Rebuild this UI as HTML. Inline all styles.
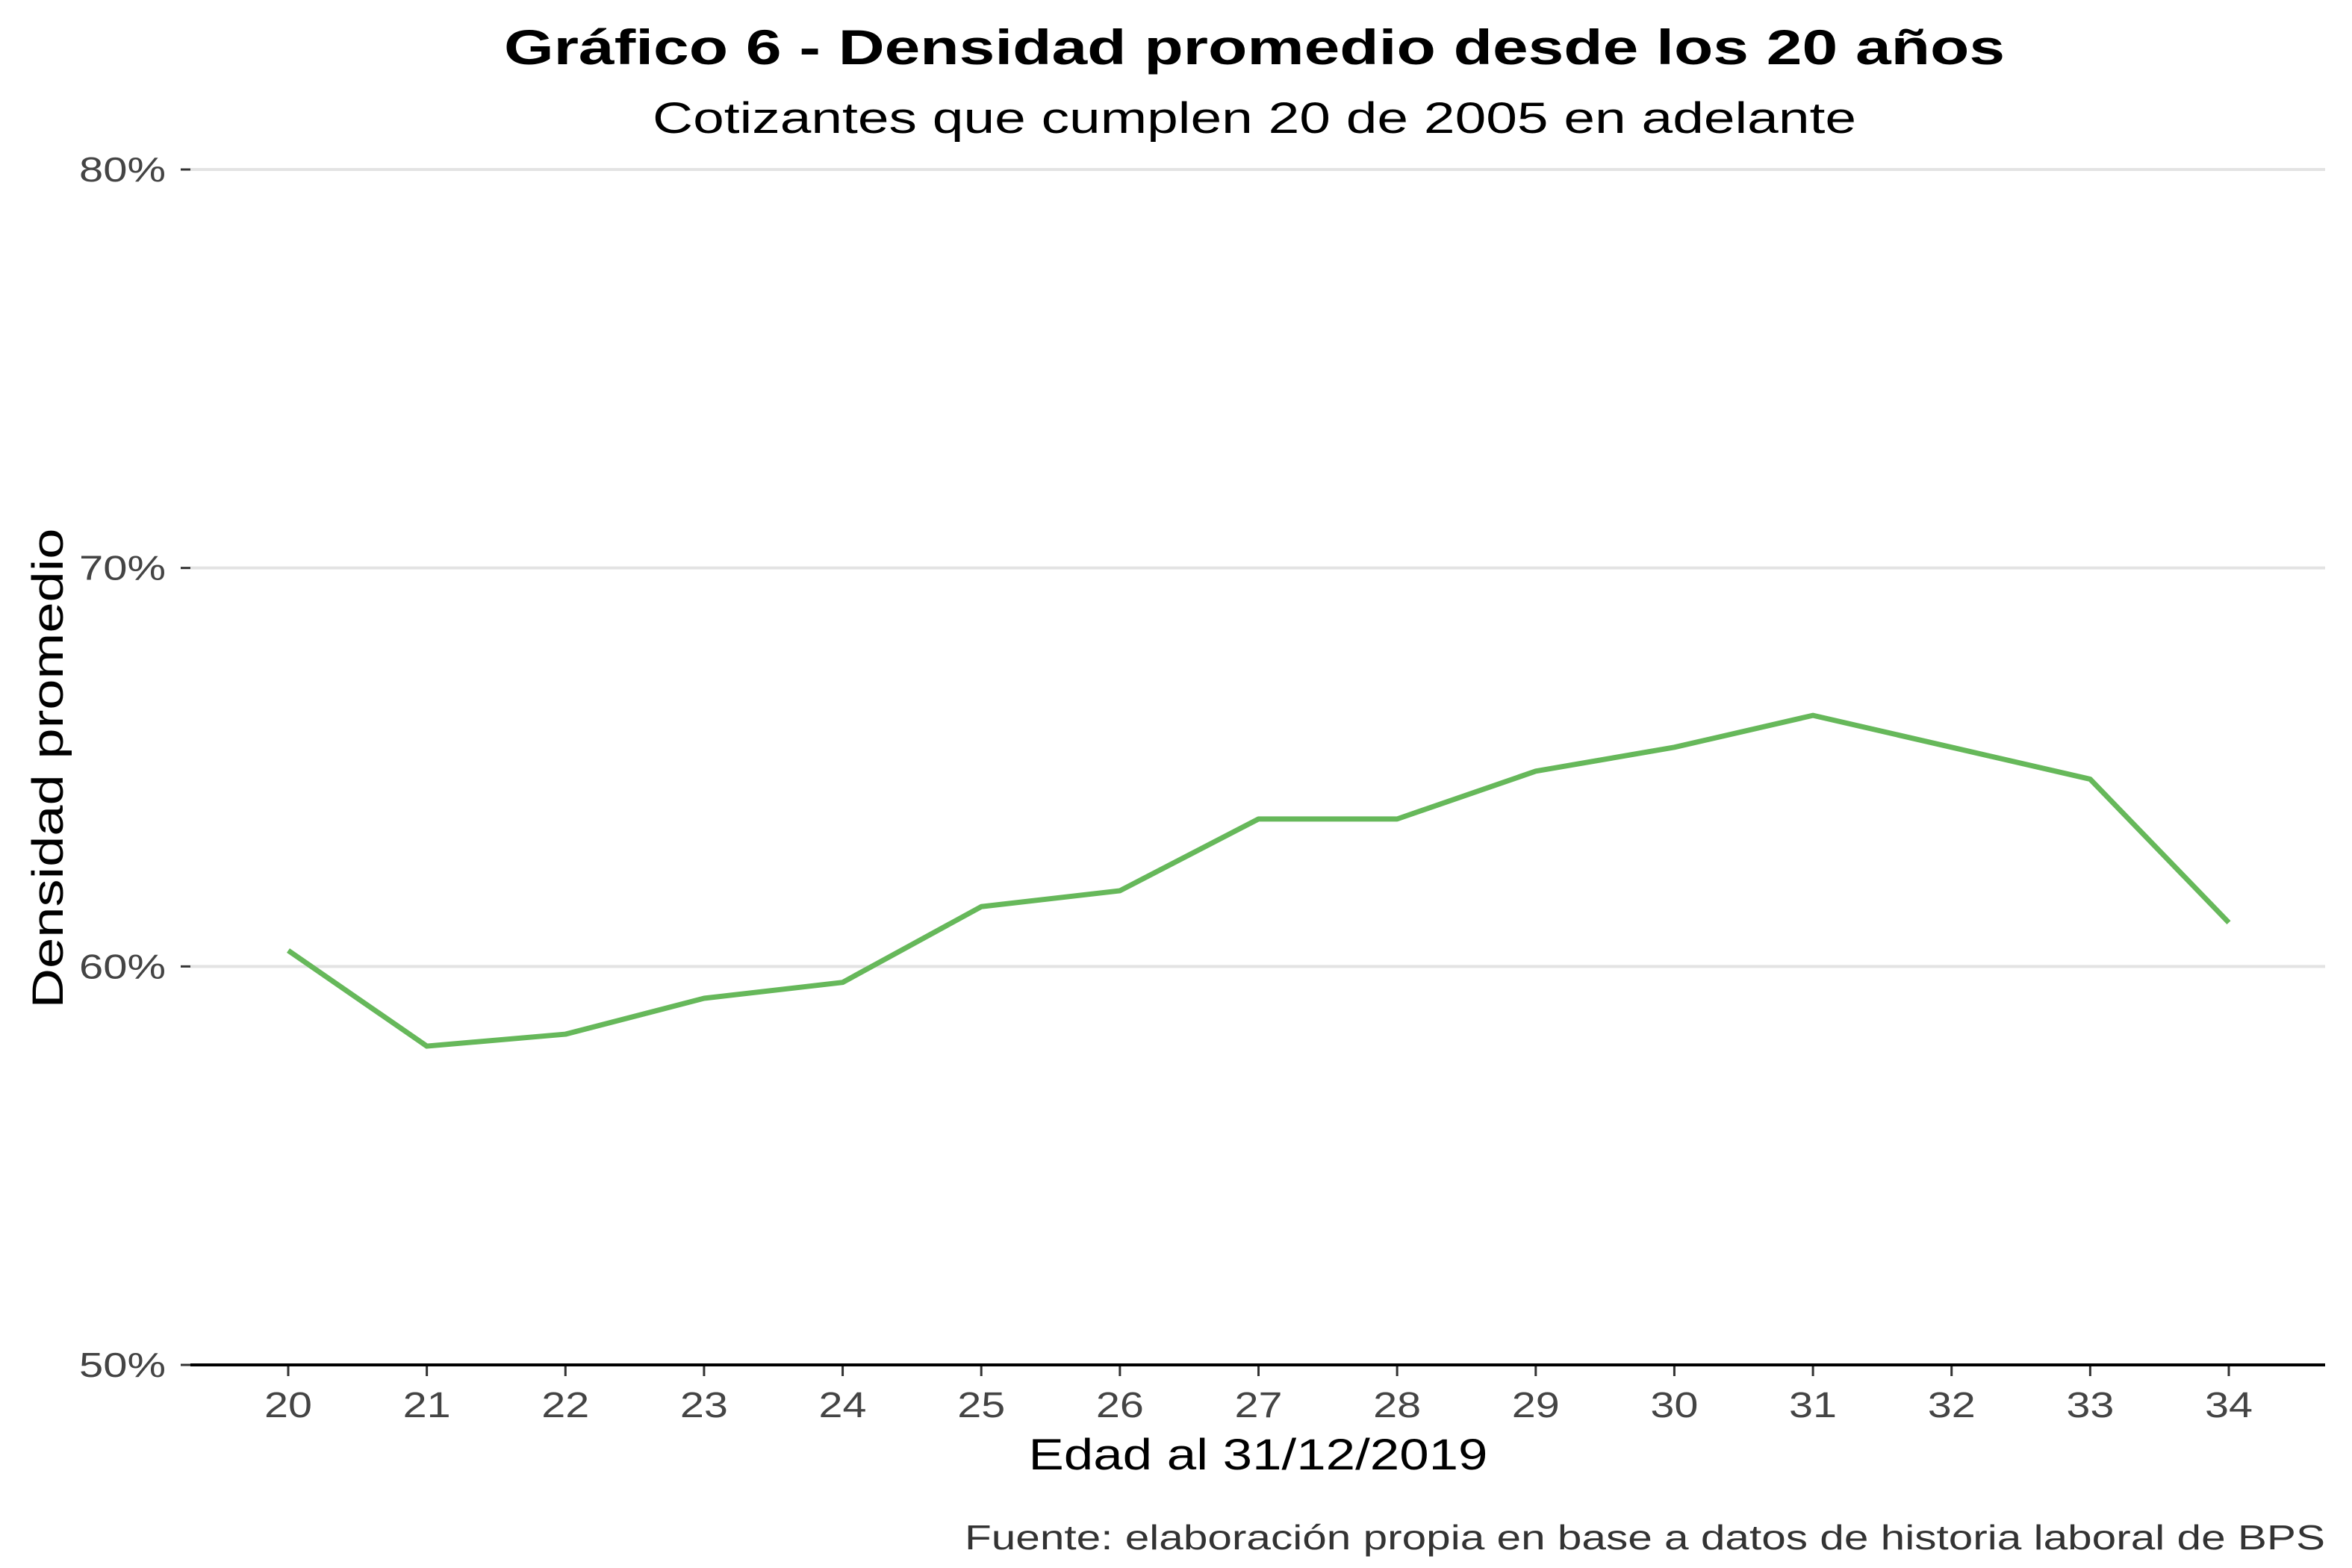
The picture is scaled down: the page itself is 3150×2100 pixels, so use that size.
<!DOCTYPE html>
<html><head><meta charset="utf-8"><style>
html,body{margin:0;padding:0;background:#fff;}
svg{display:block;font-family:"Liberation Sans",sans-serif;}
</style></head><body>
<svg id="chart" width="3150" height="2100" viewBox="0 0 3150 2100">
<text x="1680" y="86" text-anchor="middle" font-size="66" font-weight="bold" fill="#000" textLength="2010" lengthAdjust="spacingAndGlyphs">Gráfico 6 - Densidad promedio desde los 20 años</text>
<text x="1680" y="178" text-anchor="middle" font-size="58" fill="#000" textLength="1612" lengthAdjust="spacingAndGlyphs">Cotizantes que cumplen 20 de 2005 en adelante</text>
<g id="grid"></g>
<g id="yticks"></g>
<g id="xticks"></g>
<path id="line" fill="none" stroke="#66b85a" stroke-width="7" stroke-linejoin="round"></path>
<line x1="255" x2="3114" y1="1828" y2="1828" stroke="#000" stroke-width="4"/>
<text x="1685" y="1968" text-anchor="middle" font-size="58" fill="#000" textLength="615" lengthAdjust="spacingAndGlyphs">Edad al 31/12/2019</text>
<text transform="translate(84,1029) rotate(-90)" text-anchor="middle" font-size="58" fill="#000" textLength="643" lengthAdjust="spacingAndGlyphs">Densidad promedio</text>
<text x="3114" y="2075" text-anchor="end" font-size="46" fill="#333" textLength="1822" lengthAdjust="spacingAndGlyphs">Fuente: elaboración propia en base a datos de historia laboral de BPS</text>
</svg>
<script>
const ages=[20,21,22,23,24,25,26,27,28,29,30,31,32,33,34];
const density=[60.4,58.0,58.3,59.2,59.6,61.5,61.9,63.7,63.7,64.9,65.5,66.3,65.5,64.7,61.1];
const yTicks=[50,60,70,80];
const ns="http://www.w3.org/2000/svg";
function x(a){return 386+(a-20)*(2985-386)/14;}
function y(v){return 1828-(v-50)*(1828-227)/30;}
const grid=document.getElementById('grid'),yt=document.getElementById('yticks'),xt=document.getElementById('xticks');
yTicks.forEach(t=>{
 if(t>50){const l=document.createElementNS(ns,'line');
 l.setAttribute('x1',255);l.setAttribute('x2',3114);l.setAttribute('y1',y(t));l.setAttribute('y2',y(t));
 l.setAttribute('stroke','#e3e3e3');l.setAttribute('stroke-width',4);
 
 
 grid.appendChild(l);}
 const tk=document.createElementNS(ns,'line');
 tk.setAttribute('x1',242);tk.setAttribute('x2',255);tk.setAttribute('y1',y(t));tk.setAttribute('y2',y(t));tk.setAttribute('stroke','#333');tk.setAttribute('stroke-width',3);
 
 
 yt.appendChild(tk);
 const tx=document.createElementNS(ns,'text');
 tx.setAttribute('x',222);tx.setAttribute('y',y(t)+16);tx.setAttribute('text-anchor','end');tx.setAttribute('font-size',46);tx.setAttribute('fill','#444');
 tx.setAttribute('textLength',116);tx.setAttribute('lengthAdjust','spacingAndGlyphs');
 tx.textContent=t+'%';
 
 
 yt.appendChild(tx);
});
ages.forEach(a=>{
 const tk=document.createElementNS(ns,'line');
 tk.setAttribute('x1',x(a));tk.setAttribute('x2',x(a));tk.setAttribute('y1',1828);tk.setAttribute('y2',1843);tk.setAttribute('stroke','#333');tk.setAttribute('stroke-width',3);
 
 
 xt.appendChild(tk);
 const tx=document.createElementNS(ns,'text');
 tx.setAttribute('x',x(a));tx.setAttribute('y',1898);tx.setAttribute('text-anchor','middle');tx.setAttribute('font-size',48);tx.setAttribute('fill','#444');
 tx.setAttribute('textLength',64);tx.setAttribute('lengthAdjust','spacingAndGlyphs');
 tx.textContent=a;
 
 
 xt.appendChild(tx);
});
document.getElementById('line').setAttribute('d',ages.map((a,i)=>(i?'L':'M')+x(a)+','+y(density[i])).join(' '));
</script>
</body></html>
